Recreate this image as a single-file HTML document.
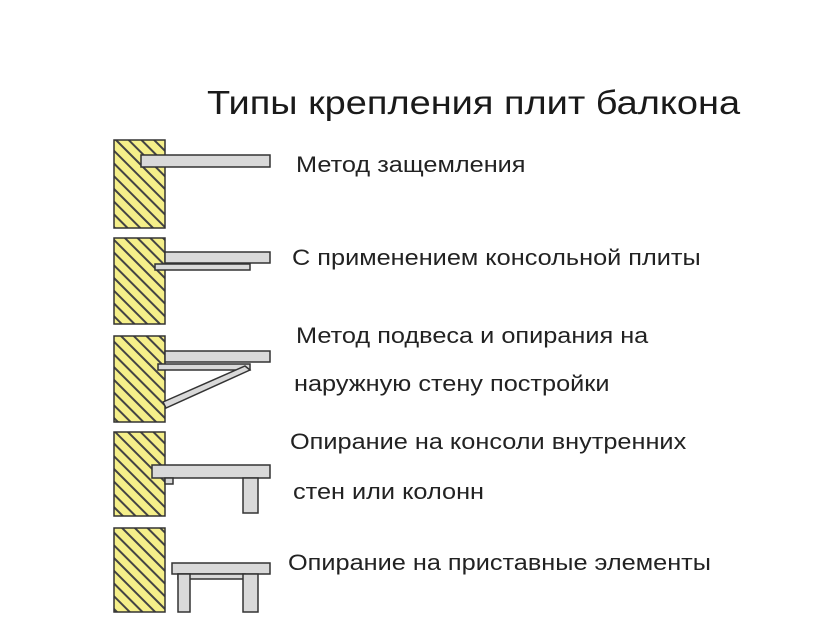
<!DOCTYPE html>
<html><head><meta charset="utf-8"><style>
body{margin:0;width:837px;height:618px;background:#fff;overflow:hidden;position:relative;font-family:"Liberation Sans","DejaVu Sans",sans-serif;color:#222}
.t{position:absolute;white-space:nowrap;transform:scaleX(1.15);transform-origin:0 0;font-size:22px}
</style></head><body>
<div class="t" style="left:207px;top:84px;font-size:33px;color:#1a1a1a">Типы крепления плит балкона</div>
<div class="t" style="left:296px;top:152px">Метод защемления</div>
<div class="t" style="left:292px;top:245px">С применением консольной плиты</div>
<div class="t" style="left:296px;top:323px">Метод подвеса и опирания на</div>
<div class="t" style="left:294px;top:371px">наружную стену постройки</div>
<div class="t" style="left:290px;top:429px">Опирание на консоли внутренних</div>
<div class="t" style="left:293px;top:479px">стен или колонн</div>
<div class="t" style="left:288px;top:550px">Опирание на приставные элементы</div>
<svg width="837" height="618" style="position:absolute;left:0;top:0">
<defs><pattern id="h" width="9" height="9" patternUnits="userSpaceOnUse" patternTransform="rotate(-45)">
<rect width="9" height="9" fill="#f5ef8a"/><rect width="2" height="9" fill="#444"/></pattern></defs>
<g stroke="#333" stroke-width="1.5" fill="url(#h)">
<rect x="114" y="140" width="51" height="88"/>
<rect x="114" y="238" width="51" height="86"/>
<rect x="114" y="336" width="51" height="86"/>
<rect x="114" y="432" width="51" height="84"/>
<rect x="114" y="528" width="51" height="84"/>
</g>
<g stroke="#333" stroke-width="1.5" fill="#d9d9d9">
<rect x="141" y="155" width="129" height="12"/>
<rect x="165" y="252" width="105" height="11"/>
<rect x="155" y="264" width="95" height="6"/>
<rect x="165" y="351" width="105" height="11"/>
<rect x="158" y="364" width="92" height="6"/>
<polygon points="163,402 245,366 250,370 166,408"/>
<rect x="152" y="465" width="118" height="13"/>
<rect x="165" y="478" width="8" height="6"/>
<rect x="243" y="478" width="15" height="35"/>
<rect x="172" y="563" width="98" height="11"/>
<rect x="178" y="574" width="67" height="5"/>
<rect x="178" y="574" width="12" height="38"/>
<rect x="243" y="574" width="15" height="38"/>
</g>
</svg>
</body></html>
